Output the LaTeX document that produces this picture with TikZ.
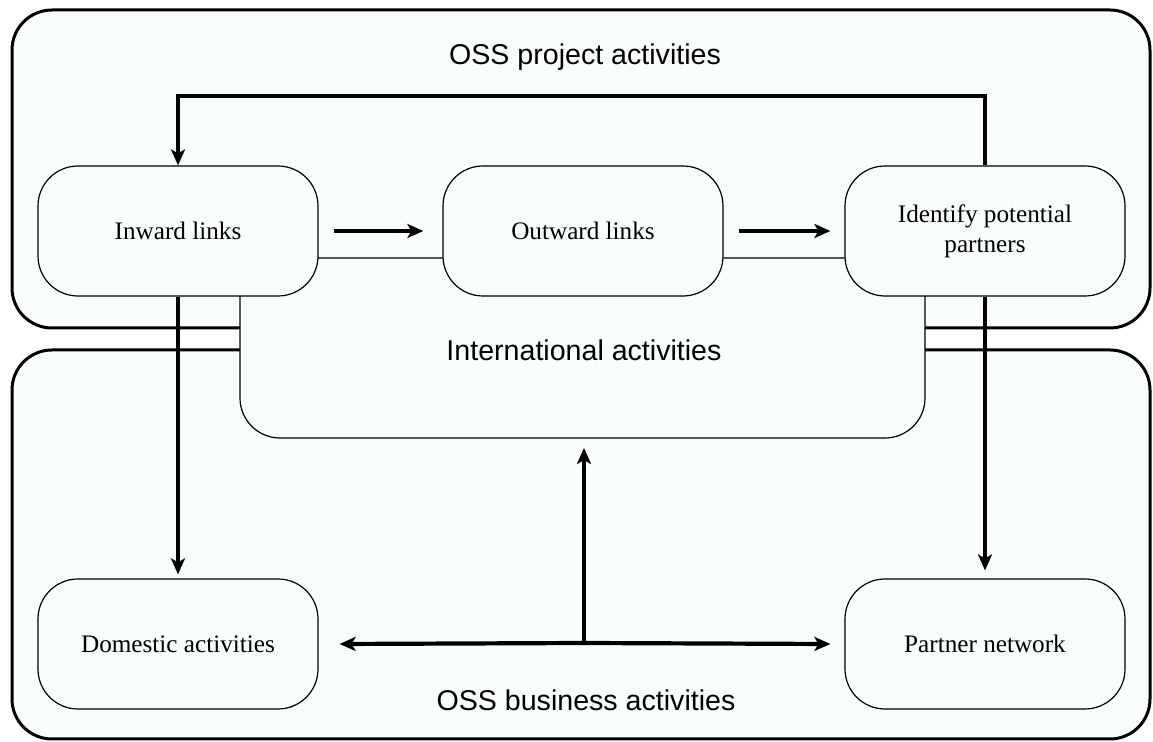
\documentclass[tikz,border=0pt]{standalone}
\usepackage{fontspec}
\setmainfont{Liberation Serif}
\setsansfont{Liberation Sans}
\usetikzlibrary{arrows.meta}
\definecolor{pale}{RGB}{249,253,251}
\begin{document}
\begin{tikzpicture}[x=0.5pt,y=-0.5pt,
  bigbox/.style={draw, line width=1.5pt, rounded corners=20pt, fill=pale},
  actbox/.style={draw, line width=0.6pt, rounded corners=20pt, fill=pale,
    minimum width=140pt, minimum height=65pt, align=center,
    font=\fontsize{12.6}{15}\selectfont},
  arr/.style={line width=2.1pt, -{Stealth[length=8pt,width=7pt,inset=2pt]}},
  title/.style={font=\sffamily\fontsize{14.3}{17}\selectfont}]
\useasboundingbox (0,0) rectangle (1153,742);
% outer regions
\path[bigbox] (12,10) rectangle (1150,328);
\path[bigbox] (12,350) rectangle (1150,739);
% international activities region
\draw[fill=pale, line width=0.6pt] (240,258) -- (925,258)
  [rounded corners=20pt] -- (925,438) -- (240,438) [sharp corners] -- cycle;
\coordinate (intlbot) at (584,438);
% activity boxes
\node[actbox] (inward)  at (178,231) {Inward links};
\node[actbox] (outward) at (583,231) {Outward links};
\node[actbox] (ident)   at (985,231) {Identify potential\\partners};
\node[actbox] (dom)     at (178,644) {Domestic activities};
\node[actbox] (partner) at (985,644) {Partner network};
% labels
\node[title] (projt) at (585,57) {OSS project activities};
\node[title] (intlt) at (584,350) {International activities};
\node[title] (bust)  at (586,700) {OSS business activities};
% connectors
\draw[arr] (ident.north) -- ++(0,-69) -| (inward.north);
\draw[arr] ([xshift=7.5pt]inward.east) -- ([xshift=-9.5pt]outward.west);
\draw[arr] ([xshift=7.5pt]outward.east) -- ([xshift=-7pt]ident.west);
\draw[arr] (inward.south) -- ([yshift=2pt]dom.north);
\draw[arr] (ident.south) -- ([yshift=4pt]partner.north);
\coordinate (hub) at (584,643);
\draw[arr] (hub) -- ([yshift=-5pt]intlbot);
\draw[arr] (hub) -- ([xshift=10.5pt]dom.east);
\draw[arr] (hub) -- ([xshift=-7pt]partner.west);
\end{tikzpicture}
\end{document}
